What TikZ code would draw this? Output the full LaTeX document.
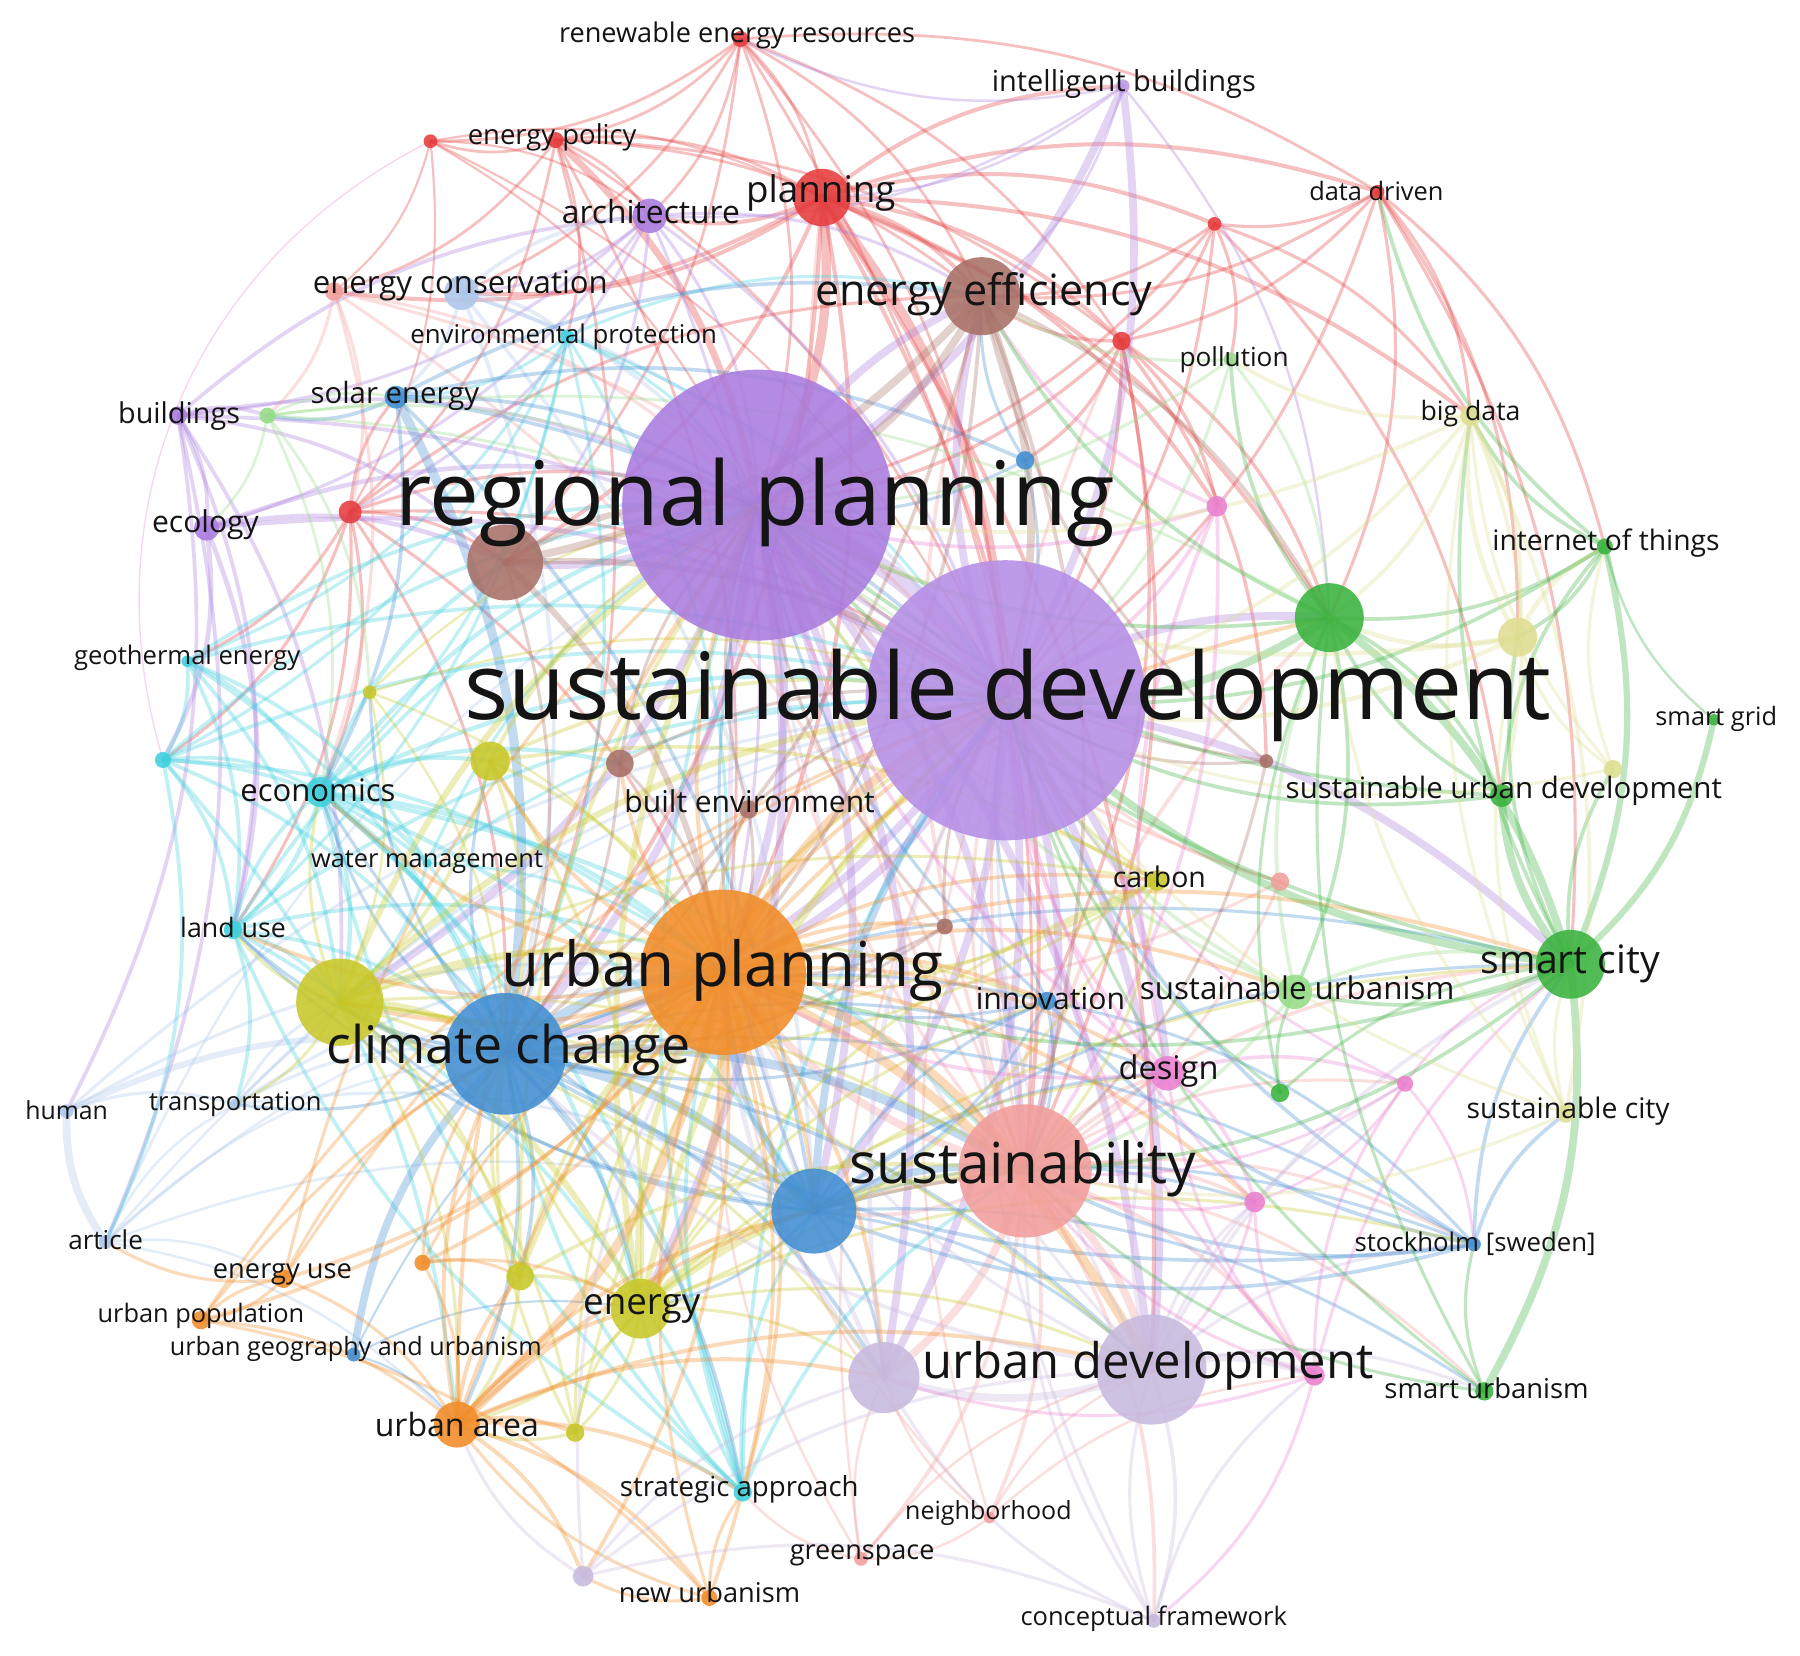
\documentclass[tikz,border=0pt]{standalone}
\usepackage{fontspec}
\setmainfont{Open Sans}
\usepackage{graphicx}
\definecolor{cR}{RGB}{230,60,60}
\definecolor{cG}{RGB}{58,178,62}
\definecolor{cB}{RGB}{66,142,210}
\definecolor{cO}{RGB}{200,200,40}
\definecolor{cP}{RGB}{170,124,222}
\definecolor{cPl}{RGB}{182,142,230}
\definecolor{cOr}{RGB}{242,140,40}
\definecolor{cC}{RGB}{62,208,222}
\definecolor{cBr}{RGB}{168,112,102}
\definecolor{cPk}{RGB}{234,128,208}
\definecolor{cSa}{RGB}{242,158,155}
\definecolor{cLv}{RGB}{200,186,222}
\definecolor{cLy}{RGB}{222,222,145}
\definecolor{cLg}{RGB}{150,220,135}
\definecolor{cLb}{RGB}{172,198,235}
\pgfdeclarelayer{bgl}
\pgfdeclarelayer{edges}
\pgfsetlayers{bgl,edges,main}
\tikzset{
  nd/.style 2 args={circle,fill=#1,fill opacity=0.88,draw=none,minimum size=#2pt,inner sep=0pt},
  ed/.style={draw opacity=0.32,bend left=18,line cap=round},
  lb/.style={inner sep=0pt,text=black!92,text opacity=1}
}
\newcommand\edg[4]{\foreach \tg in {#4}{\draw[ed,draw=#2,line width=1.35*#3pt] (#1.center) to (\tg.center);}}
\newcommand\lab[4]{\node[lb] (#1) at (#2) {\resizebox{\dimexpr#3pt/2\relax}{!}{#4}};}
\begin{document}
\begin{tikzpicture}[x=0.5pt,y=-0.5pt]
\useasboundingbox (0,0) rectangle (1568,1442);
\begin{pgfonlayer}{bgl}
\fill[white] (0,0) rectangle (1568,1442);
\end{pgfonlayer}
% ---------- nodes (circles) ----------
% red
\node[nd={cR}{7}] (rer) at (645,34) {};
\node[nd={cR}{7}] (epol) at (484,122) {};
\node[nd={cR}{6}] (red1) at (375,123) {};
\node[nd={cR}{25}] (plan) at (716,172) {};
\node[nd={cR}{6}] (dd) at (1200,167) {};
\node[nd={cR}{6}] (red2) at (1058,195) {};
\node[nd={cR}{8}] (red3) at (977,297) {};
\node[nd={cR}{10}] (red4) at (305,446) {};
% purple
\node[nd={cP}{118}] (rp) at (660,440) {};
\node[nd={cPl}{122}] (sd) at (876,610) {};
\node[nd={cP}{15}] (arch) at (566,188) {};
\node[nd={cP}{8}] (bldg) at (155,362) {};
\node[nd={cP}{11}] (eco) at (180,460) {};
\node[nd={cP!75}{6}] (ib) at (978,75) {};
% brown
\node[nd={cBr}{34}] (ee) at (855,258) {};
\node[nd={cBr}{33}] (br1) at (440,490) {};
\node[nd={cBr}{12}] (br2) at (540,665) {};
\node[nd={cBr}{8}] (be) at (652,705) {};
\node[nd={cBr}{6}] (br3) at (1103,663) {};
\node[nd={cBr}{7}] (br4) at (823,807) {};
% green
\node[nd={cG}{30}] (gr1) at (1158,538) {};
\node[nd={cG}{7}] (iot) at (1398,476) {};
\node[nd={cG}{5}] (sg) at (1493,627) {};
\node[nd={cG}{10}] (sud) at (1308,693) {};
\node[nd={cG}{30}] (sc) at (1368,840) {};
\node[nd={cG}{8}] (gr2) at (1115,952) {};
\node[nd={cG}{8}] (su) at (1293,1212) {};
% light green
\node[nd={cLg}{6}] (poll) at (1072,313) {};
\node[nd={cLg}{7}] (lg1) at (233,362) {};
\node[nd={cLg}{15}] (sus) at (1128,864) {};
% light yellow
\node[nd={cLy}{9}] (bd) at (1281,362) {};
\node[nd={cLy}{17}] (ly1) at (1322,555) {};
\node[nd={cLy}{8}] (ly2) at (1405,670) {};
\node[nd={cLy}{8}] (scity) at (1364,970) {};
% blue
\node[nd={cB}{10}] (se) at (345,346) {};
\node[nd={cB}{8}] (bl1) at (893,401) {};
\node[nd={cB}{8}] (inn) at (912,872) {};
\node[nd={cB}{53}] (cc) at (440,918) {};
\node[nd={cB}{37}] (bl2) at (709,1055) {};
\node[nd={cB}{6}] (sto) at (1284,1084) {};
\node[nd={cB}{6}] (ugu) at (308,1180) {};
% light blue
\node[nd={cLb}{15}] (econs) at (402,255) {};
\node[nd={cLb}{6}] (hum) at (58,968) {};
\node[nd={cLb}{5}] (trans) at (205,962) {};
\node[nd={cLb}{6}] (art) at (92,1082) {};
% olive
\node[nd={cO}{6}] (ol1) at (322,603) {};
\node[nd={cO}{17}] (ol2) at (427,663) {};
\node[nd={cO}{38}] (ol3) at (296,873) {};
\node[nd={cO}{9}] (carb) at (1008,767) {};
\node[nd={cO}{12}] (ol4) at (453,1112) {};
\node[nd={cO}{26}] (en) at (558,1140) {};
\node[nd={cO}{8}] (ol5) at (501,1248) {};
% cyan
\node[nd={cC}{6}] (envp) at (494,293) {};
\node[nd={cC}{5}] (geo) at (163,576) {};
\node[nd={cC}{7}] (cy1) at (142,662) {};
\node[nd={cC}{13}] (econ) at (279,690) {};
\node[nd={cC}{4}] (wm) at (372,752) {};
\node[nd={cC}{8}] (lu) at (203,810) {};
\node[nd={cC}{8}] (sa) at (647,1300) {};
% orange
\node[nd={cOr}{72}] (up) at (630,847) {};
\node[nd={cOr}{8}] (eu) at (247,1114) {};
\node[nd={cOr}{7}] (or1) at (368,1100) {};
\node[nd={cOr}{8}] (upop) at (175,1150) {};
\node[nd={cOr}{20}] (ua) at (398,1241) {};
\node[nd={cOr}{7}] (nu) at (618,1392) {};
% pink
\node[nd={cPk}{9}] (pk1) at (1060,441) {};
\node[nd={cPk}{15}] (des) at (1017,935) {};
\node[nd={cPk}{7}] (pk2) at (1224,944) {};
\node[nd={cPk}{9}] (pk3) at (1093,1047) {};
\node[nd={cPk}{9}] (pk4) at (1145,1198) {};
% salmon
\node[nd={cSa}{8}] (sa1) at (291,254) {};
\node[nd={cSa}{8}] (sa2) at (1115,768) {};
\node[nd={cSa}{58}] (sust) at (893,1020) {};
\node[nd={cSa}{5}] (nb) at (862,1322) {};
\node[nd={cSa}{6}] (gs) at (750,1358) {};
% lavender
\node[nd={cLv}{48}] (ud) at (1003,1193) {};
\node[nd={cLv}{31}] (lv1) at (770,1200) {};
\node[nd={cLv}{9}] (lv2) at (508,1373) {};
\node[nd={cLv}{6}] (cf) at (1005,1412) {};
% ---------- edges ----------
\begin{pgfonlayer}{edges}
% red
\edg{rer}{cR}{0.9}{epol,red1,arch,plan,ee,rp,sd,red3,dd,br1,sust,econs}
\edg{epol}{cR}{0.9}{red1,arch,plan,sd,ee,red4,sa1,cc,envp,red3,up}
\edg{epol}{cR}{2.2}{rp}
\edg{red1}{cR}{0.7}{arch,sa1,rp,red4,plan,sd}
\draw[ed,draw=cPk,line width=0.6pt,bend left=40] (cy1.center) to (red1.center);
\edg{plan}{cR}{1.3}{arch,ee,red2,dd,red3,gr1,ud,sust,up,bd,ib,pk1,br1,econs,cc,sa1}
\edg{plan}{cR}{3}{rp,sd}
\edg{dd}{cR}{1}{red2,red3,ee,bd,iot,sd,gr1,sc,ly1}
\edg{red2}{cR}{1}{red3,ee,sd,rp,bd,poll,sud}
\edg{red3}{cR}{1.1}{ee,rp,sd,bl1,gr1,pk1,sust,inn,br3}
\edg{red4}{cR}{1}{rp,sd,ee,econ,cy1,geo,cc,br1,lu,up,se}
% purple
\edg{rp}{cP}{6}{sd}
\edg{rp}{cP}{2.5}{up,cc,sust,ud,bl2,br1,ee,en,ol3,lv1}
\edg{sd}{cP}{2.5}{up,cc,sust,ud,bl2,gr1,sc,ee,lv1,des}
\edg{arch}{cP}{1}{rp,sd,ee,econs,bldg,br1,red4,eco,up}
\edg{ib}{cP}{2.5}{rp,sd}
\edg{ib}{cP}{0.8}{arch,plan,ee,gr1,rer}
\edg{bldg}{cP}{1.2}{eco,rp,sd,lg1,arch,br1,hum,ol3,lu,art}
\edg{eco}{cP}{1.5}{rp,sd,br1,cy1,lu}
% light blue
\edg{econs}{cLb}{1.2}{rp,sd,se,cc,bl2,envp,arch}
\edg{hum}{cLb}{1}{trans,up,sd}
\edg{hum}{cLb}{2}{cc}
\edg{art}{cLb}{2.5}{hum}
\edg{art}{cLb}{0.8}{cc,bl2,up,sd,rp,ua,eu,trans}
\edg{trans}{cLb}{1}{cc,bl2,up,sd,ol3}
% salmon
\edg{sa1}{cSa}{1}{red4,lg1,sust,rp,sd,econ}
\edg{sust}{cSa}{2.5}{up,ud,lv1}
\edg{sust}{cSa}{1.2}{des,pk3,pk4,nb,gs,cf,inn,bl2,gr1,sc,ee}
\edg{sust}{cSa}{1}{rp,sd,plan,red3,pk2,su,sto}
\edg{sa2}{cSa}{1}{sd,rp,sust,up}
\edg{nb}{cSa}{0.8}{ud,lv1,pk4,sd,up,gs}
\edg{gs}{cSa}{0.8}{ud,lv1,up,sa,sd}
% cyan
\edg{envp}{cC}{1}{rp,sd,econ,cy1,se,lu,ee,up,geo,cc}
\edg{geo}{cC}{1.2}{cy1,econ,lu,rp,sd,wm,ol3,cc}
\edg{cy1}{cC}{1.2}{econ,lu,ua,cc,rp,sd,wm,up,art}
\edg{econ}{cC}{1.4}{rp,sd,up,cc,ol2,lu,wm,ol3,bl2,sust,en,sa,br1,br2}
\edg{wm}{cC}{1}{rp,sd,up,cc,ol3}
\edg{lu}{cC}{1.2}{ol3,cc,up,sd,rp,trans,sa,econ}
\edg{sa}{cC}{1.2}{bl2,up,cc,en,sd,rp,econ,lu,sust}
% blue
\edg{se}{cB}{1.2}{rp,sd,bl2,ee,bl1,lg1,econ}
\edg{se}{cB}{3}{cc}
\edg{bl1}{cB}{1}{sd,rp,ee}
\edg{inn}{cB}{1}{sd,rp,bl2,cc,sust,up,sto}
\edg{cc}{cB}{3}{up,bl2,sust}
\edg{cc}{cB}{1.2}{ol3,ua,en,ud,lv1,ol4,sa}
\edg{cc}{cB}{1}{econ,lu,trans,ol2,ol1,sc,inn,des,sto}
\edg{bl2}{cB}{2.5}{up,sust,sd}
\edg{bl2}{cB}{1}{ud,lv1,en,sto,sc,des,inn,pk3,econ,lu,rp,ol3,su}
\edg{sto}{cB}{1.2}{sust,sd,cc,inn,scity,sc,bl2}
\edg{ugu}{cB}{2.5}{cc}
\edg{ugu}{cB}{0.7}{ua,en,up}
% olive
\edg{ol1}{cO}{0.8}{rp,sd,up,ol3,cc}
\edg{ol2}{cO}{1.2}{rp,sd,up,cc,ol3,en,carb}
\edg{ol3}{cO}{2}{cc,up,sd,rp,en}
\edg{ol3}{cO}{1}{ol4,ol5,ua,carb,lu,econ,trans,sust,bl2,lv1,ud,inn}
\edg{carb}{cO}{1}{sd,rp,up,cc,ol3,en,sust}
\edg{ol4}{cO}{1.2}{up,cc,sd,rp,en,ua,sust}
\edg{en}{cO}{2}{up,sust,sd,rp}
\edg{en}{cO}{1}{cc,bl2,ud,ol5,carb,ua,lv1,des,inn,sto,sc}
\edg{ol5}{cO}{1}{en,ua,up,cc,sd}
% orange
\edg{up}{cOr}{3}{ua,en,sust,ud,sd}
\edg{up}{cOr}{1.2}{eu,or1,upop,nu,lv2,sa,br4,be,br2,des,carb}
\edg{up}{cOr}{1.3}{rp,cc,bl2,ol3,econ,lu,ol2,inn,sus,sc,gr1,pk3,lv1}
\edg{eu}{cOr}{1}{ua,art,cc,sd,rp,upop}
\edg{or1}{cOr}{1}{ua,up,ol4,en,cc}
\edg{upop}{cOr}{1}{ua,up,eu,nu,sd}
\edg{ua}{cOr}{1.3}{cc,en,ol4,ol5,sust,ud,nu,lv2,sd,rp,sa,lv1,bl2}
\edg{nu}{cOr}{1}{ua,up,lv2,sa}
% lavender
\edg{ud}{cLv}{2.5}{lv1,pk4}
\edg{ud}{cLv}{1.2}{cc,sc,des,cf}
\edg{ud}{cLv}{1}{rp,sd,up,pk2,pk3,sto,su}
\edg{lv1}{cLv}{1.5}{sd,rp,up}
\edg{lv2}{cLv}{1}{ua,lv1,ud,cf,up}
\edg{cf}{cLv}{1}{ud,lv1,pk4,sust,sd}
% pink
\edg{pk1}{cPk}{1.2}{sd,rp,ee,sust}
\edg{des}{cPk}{1.2}{sd,sust,rp,up,pk1,pk2,pk3}
\edg{pk2}{cPk}{0.9}{sd,sust,pk3,sc,sto}
\edg{pk3}{cPk}{1}{sust,sd,ud}
\edg{pk4}{cPk}{1}{sust,sd,des,pk3,pk2,sc,lv1,cf}
% brown
\edg{ee}{cBr}{2.5}{rp,sd,br1}
\edg{ee}{cBr}{1.2}{up,cc,sust,gr1}
\edg{br1}{cBr}{2}{rp,sd,up}
\edg{br1}{cBr}{1}{cc}
\edg{br2}{cBr}{1}{rp,sd,up,cc}
\edg{be}{cBr}{1}{rp,sd,up,cc}
\edg{br3}{cBr}{1}{sd,rp,ee,sust}
\edg{br4}{cBr}{1}{sd,rp,up,cc}
% green
\edg{gr1}{cG}{2.5}{sd,sc}
\edg{gr1}{cG}{1.2}{rp,ee,poll,sus,sud}
\edg{sc}{cG}{2.5}{sd,sud,su}
\edg{sc}{cG}{1.2}{rp,sust,bd,ly1,ly2,sus,up}
\edg{sg}{cG}{2}{sc}
\edg{sg}{cG}{0.8}{iot}
\edg{su}{cG}{1}{sd,sto,sust,gr1}
\edg{iot}{cG}{1.2}{gr1,ly1,bd,sd,dd}
\edg{iot}{cG}{2}{sc}
\edg{sud}{cG}{1.2}{sd,gr1,iot,rp}
\edg{gr2}{cG}{1}{sd,sc,sus,gr1}
% light green
\edg{poll}{cLg}{1}{sd,rp,ee,gr1}
\edg{lg1}{cLg}{0.9}{rp,sd,gr1,econ,se,eco,ol1}
\edg{sus}{cLg}{1.2}{sd,sc,gr1,sust,rp}
% light yellow
\edg{bd}{cLy}{1.2}{sd,rp,gr1,ly1,poll,scity,sud}
\edg{ly1}{cLy}{1.5}{sd,bd,gr1,iot,rp}
\edg{ly2}{cLy}{1}{bd,iot,ly1,sd}
\edg{scity}{cLy}{1}{sd,sc,bd,ly1,sust,gr1}
\end{pgfonlayer}
% ---------- labels ----------
\lab{rerL}{642,31}{310}{renewable energy resources}
\lab{ibL}{979,73}{230}{intelligent buildings}
\lab{epolL}{481,120}{147}{energy policy}
\lab{planL}{715,168}{130}{planning}
\lab{archL}{567,184}{155}{architecture}
\lab{ddL}{1199,166}{117}{data driven}
\lab{econsL}{401,249}{257}{energy conservation}
\lab{eeL}{857,256}{294}{energy efficiency}
\lab{envpL}{491,293}{267}{environmental protection}
\lab{pollL}{1075,313}{95}{pollution}
\lab{seL}{344,345}{147}{solar energy}
\lab{bldgL}{156,362}{106}{buildings}
\lab{bdL}{1281,360}{87}{big data}
\lab{ecoL}{179,457}{93}{ecology}
\lab{rpL}{658,438}{627}{regional planning}
\lab{iotL}{1399,473}{198}{internet of things}
\lab{sdL}{878,606}{947}{sustainable development}
\lab{geoL}{163,573}{197}{geothermal energy}
\lab{sgL}{1495,626}{106}{smart grid}
\lab{econL}{277,688}{135}{economics}
\lab{beL}{653,698}{218}{built environment}
\lab{sudL}{1310,689}{380}{sustainable urban development}
\lab{wmL}{372,751}{202}{water management}
\lab{carbL}{1010,764}{81}{carbon}
\lab{luL}{203,808}{92}{land use}
\lab{scL}{1368,840}{156}{smart city}
\lab{upL}{629,845}{385}{urban planning}
\lab{susL}{1130,860}{274}{sustainable urbanism}
\lab{innL}{915,870}{130}{innovation}
\lab{ccL}{443,915}{317}{climate change}
\lab{desL}{1018,933}{87}{design}
\lab{humL}{58,967}{72}{human}
\lab{transL}{205,962}{150}{transportation}
\lab{scityL}{1366,968}{177}{sustainable city}
\lab{sustL}{891,1018}{302}{sustainability}
\lab{artL}{92,1080}{65}{article}
\lab{stoL}{1285,1083}{210}{stockholm [sweden]}
\lab{euL}{246,1110}{121}{energy use}
\lab{upopL}{175,1146}{180}{urban population}
\lab{enL}{559,1140}{102}{energy}
\lab{uguL}{310,1175}{324}{urban geography and urbanism}
\lab{udL}{1000,1190}{393}{urban development}
\lab{suL}{1295,1209}{178}{smart urbanism}
\lab{uaL}{398,1241}{143}{urban area}
\lab{saL}{644,1297}{208}{strategic approach}
\lab{nbL}{861,1318}{145}{neighborhood}
\lab{gsL}{751,1355}{126}{greenspace}
\lab{nuL}{618,1387}{158}{new urbanism}
\lab{cfL}{1005,1410}{232}{conceptual framework}
\end{tikzpicture}
\end{document}
